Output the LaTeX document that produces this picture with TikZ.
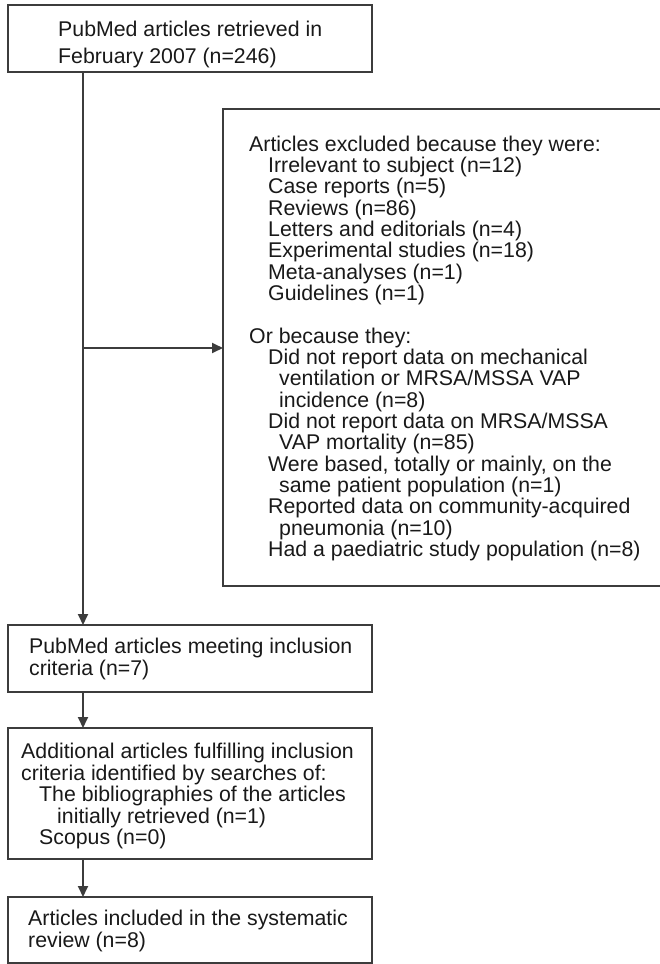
\documentclass[tikz,border=0pt]{standalone}
\usepackage{fontspec}
\setmainfont{Liberation Sans}
\usetikzlibrary{arrows.meta}
\definecolor{ln}{RGB}{60,60,60}
\definecolor{tx}{RGB}{25,25,25}
\newcommand{\mystrut}{\rule{0pt}{17pt}}
\tikzset{
  boxshape/.style={draw=ln, line width=1.8pt, outer sep=0pt, inner sep=0pt, anchor=north west},
  txt/.style={anchor=north west, inner sep=0pt, align=left, text=tx},
  conn/.style={draw=ln, line width=1.8pt},
  arr/.style={conn, -{Triangle[length=11pt,width=10pt]}},
}
\begin{document}
\begin{tikzpicture}[x=1pt,y=-1pt]
\useasboundingbox[fill=white] (0,0) rectangle (660,964);
% boxes
\node[boxshape, minimum width=364pt, minimum height=67pt] (b1) at (8,5) {};
\node[boxshape, draw=none, minimum width=437pt, minimum height=477pt] (b2) at (223,109) {};
\draw[conn] (b2.north east) -- (b2.north west) -- (b2.south west) -- (b2.south east);
\node[boxshape, minimum width=364pt, minimum height=67pt] (b3) at (8,625) {};
\node[boxshape, minimum width=364pt, minimum height=131pt] (b4) at (8,728) {};
\node[boxshape, minimum width=364pt, minimum height=66pt] (b5) at (8,897) {};
% texts
\node[txt, font=\fontsize{21.3}{26.7}\selectfont] (t1) at (58,19.7)
  {\mystrut PubMed articles retrieved in\\February 2007 (n=246)};
\node[txt, font=\fontsize{21.3}{21.33}\selectfont] (t2) at (249,134)
  {\mystrut Articles excluded because they were:\\
   \hspace*{19pt}Irrelevant to subject (n=12)\\
   \hspace*{19pt}Case reports (n=5)\\
   \hspace*{19pt}Reviews (n=86)\\
   \hspace*{19pt}Letters and editorials (n=4)\\
   \hspace*{19pt}Experimental studies (n=18)\\
   \hspace*{19pt}Meta-analyses (n=1)\\
   \hspace*{19pt}Guidelines (n=1)\\[21.33pt]
   Or because they:\\
   \hspace*{19pt}Did not report data on mechanical\\
   \hspace*{30pt}ventilation or MRSA/MSSA VAP\\
   \hspace*{30pt}incidence (n=8)\\
   \hspace*{19pt}Did not report data on MRSA/MSSA\\
   \hspace*{30pt}VAP mortality (n=85)\\
   \hspace*{19pt}Were based, totally or mainly, on the\\
   \hspace*{30pt}same patient population (n=1)\\
   \hspace*{19pt}Reported data on community-acquired\\
   \hspace*{30pt}pneumonia (n=10)\\
   \hspace*{19pt}Had a paediatric study population (n=8)};
\node[txt, font=\fontsize{21.3}{21.7}\selectfont] (t3) at (29,636.3)
  {\mystrut PubMed articles meeting inclusion\\criteria (n=7)};
\node[txt, font=\fontsize{21.3}{21.5}\selectfont] (t4) at (21,741.3)
  {\mystrut Additional articles fulfilling inclusion\\
   criteria identified by searches of:\\
   \hspace*{18pt}The bibliographies of the articles\\
   \hspace*{36pt}initially retrieved (n=1)\\
   \hspace*{18pt}Scopus (n=0)};
\node[txt, font=\fontsize{21.3}{22}\selectfont] (t5) at (28,908)
  {\mystrut Articles included in the systematic\\review (n=8)};
% connectors
\coordinate (trunk) at (83,0);
\coordinate (branch) at (83,348);
\draw[arr] (b1.south -| trunk) -- (b3.north -| trunk);
\draw[arr] (branch) -- (branch -| b2.west);
\draw[arr] (b3.south -| trunk) -- (b4.north -| trunk);
\draw[arr] (b4.south -| trunk) -- (b5.north -| trunk);
\end{tikzpicture}
\end{document}
